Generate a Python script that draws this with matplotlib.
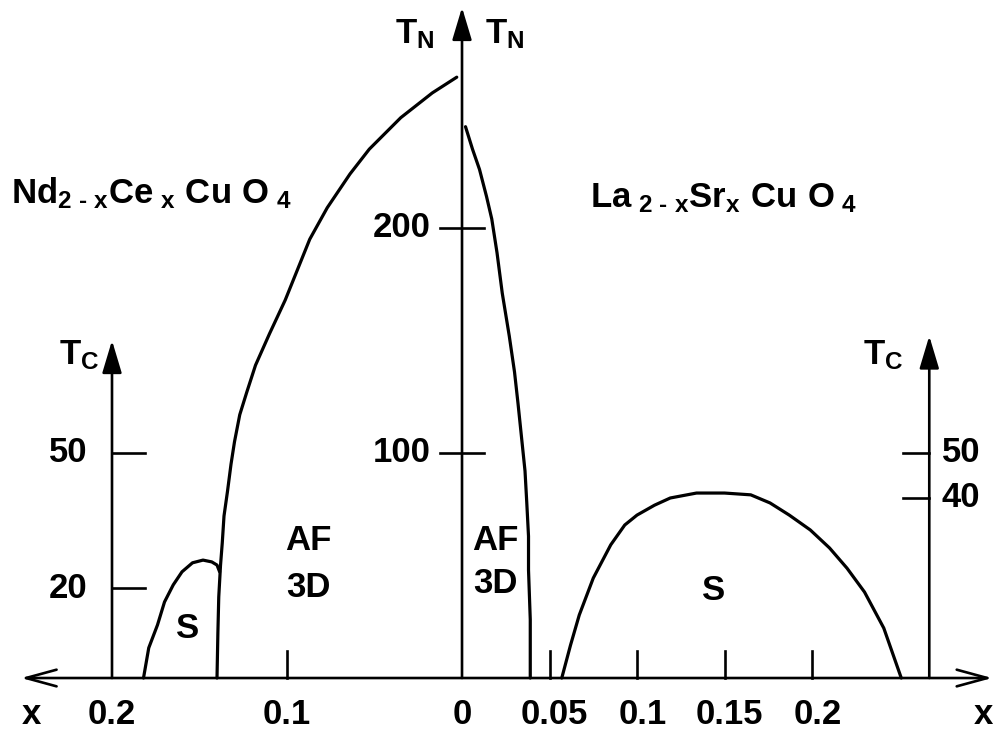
import numpy as np
import matplotlib.pyplot as plt

plt.rcParams['font.family'] = ['Liberation Sans', 'DejaVu Sans']
plt.rcParams['font.weight'] = 'bold'
plt.rcParams['mathtext.fontset'] = 'custom'
plt.rcParams['mathtext.rm'] = 'Liberation Sans:bold'
plt.rcParams['mathtext.bf'] = 'Liberation Sans:bold'
plt.rcParams['mathtext.it'] = 'Liberation Sans:bold'

# Nd2-xCexCuO4 (electron doped, drawn on the left, x counted leftwards)
nd_tn_x = [0.003, 0.017, 0.035, 0.053, 0.064, 0.077, 0.087, 0.101, 0.110, 0.118,
           0.123, 0.127, 0.130, 0.132, 0.134, 0.136, 0.137, 0.138, 0.139, 0.1395, 0.140]
nd_tn = [267, 260, 249, 235, 224, 209, 195, 168, 153, 139,
         127, 117, 105, 95, 83, 72, 60, 50, 36, 20, 0]
nd_tc_x = [0.182, 0.179, 0.174, 0.170, 0.165, 0.160, 0.154, 0.148, 0.143, 0.140, 0.1385]
nd_tc = [0, 6.7, 11.8, 16.9, 20.7, 23.6, 25.6, 26.2, 25.8, 25.1, 23.6]

# La2-xSrxCuO4 (hole doped, drawn on the right)
la_tn_x = [0.002, 0.006, 0.010, 0.014, 0.017, 0.020, 0.023, 0.027, 0.030,
           0.032, 0.034, 0.036, 0.037, 0.038, 0.038, 0.039, 0.039]
la_tn = [245, 235, 226, 214, 204, 189, 171, 152, 136,
         122, 107, 92, 78, 63, 48, 26, 0]
la_tc_x = [0.057, 0.062, 0.067, 0.075, 0.085, 0.093, 0.100, 0.110, 0.119, 0.134,
           0.150, 0.165, 0.176, 0.187, 0.199, 0.210, 0.220, 0.230, 0.241, 0.251]
la_tc = [0, 7.3, 14.0, 22.2, 29.6, 34.0, 36.2, 38.4, 40.0, 41.1,
         41.1, 40.7, 38.9, 36.2, 32.9, 28.9, 24.4, 19.1, 11.1, 0]

# axis ticks and labels
x_ticks_left = [0.1]
x_ticks_right = [0.05, 0.1, 0.15, 0.2]
x_labels_left = [0.2, 0.1]
x_labels_right = [0.05, 0.1, 0.15, 0.2]
tn_ticks = [100, 200]
tc_ticks_left = [20, 50]
tc_ticks_right = [40, 50]

TC_LEFT_X = -0.2
TC_RIGHT_X = 0.267

fig = plt.figure(figsize=(9.97, 7.30), dpi=100)
ax = fig.add_axes([0, 0, 1, 1])
ax.set_xlim(-0.264, 0.3057)
ax.set_ylim(-23.1, 301.3)
ax.axis('off')

# Tc axis: 50 K of Tc sits at 100 K of TN
ax2 = ax.twinx()
ax2.set_ylim(-23.1 / 2, 301.3 / 2)
ax2.axis('off')

lw_axis = 1.9
lw_curve = 2.3
fs = 25

# x axis with open arrows at both ends
ax.annotate('', xy=(-0.252, 0), xytext=(0.303, 0),
            arrowprops=dict(arrowstyle='<->,head_length=1.1,head_width=0.3',
                            lw=lw_axis, color='k', shrinkA=0, shrinkB=0,
                            mutation_scale=20))

def up_arrow(a, x, y_top):
    a.annotate('', xy=(x, y_top), xytext=(x, 0),
               arrowprops=dict(arrowstyle='-|>,head_length=1.0,head_width=0.3',
                               lw=lw_axis, color='k', shrinkA=0, shrinkB=0,
                               mutation_scale=20))

up_arrow(ax, 0, 298)
up_arrow(ax2, TC_LEFT_X, 75)
up_arrow(ax2, TC_RIGHT_X, 76)

# ticks
tick_h = 12
for v in x_ticks_left:
    ax.plot([-v, -v], [0, tick_h], color='k', lw=lw_axis)
for v in x_ticks_right:
    ax.plot([v, v], [0, tick_h], color='k', lw=lw_axis)
for v in tn_ticks:
    ax.plot([-0.0126, 0.0126], [v, v], color='k', lw=lw_axis)
    ax.text(-0.018, v, str(v), ha='right', va='center', fontsize=fs, fontweight='bold')
for v in tc_ticks_left:
    ax2.plot([TC_LEFT_X, TC_LEFT_X + 0.019], [v, v], color='k', lw=lw_axis)
    ax2.text(TC_LEFT_X - 0.014, v, str(v), ha='right', va='center', fontsize=fs, fontweight='bold')
for v in tc_ticks_right:
    ax2.plot([TC_RIGHT_X - 0.015, TC_RIGHT_X], [v, v], color='k', lw=lw_axis)
    ax2.text(TC_RIGHT_X + 0.007, v, str(v), ha='left', va='center', fontsize=fs, fontweight='bold')

# x labels
y_lab = -16.4
for v in x_labels_left:
    ax.text(-v, y_lab, f'{v:g}', ha='center', va='center', fontsize=fs, fontweight='bold')
ax.text(0, y_lab, '0', ha='center', va='center', fontsize=fs, fontweight='bold')
for v in x_labels_right:
    ax.text(v + 0.003, y_lab, f'{v:g}', ha='center', va='center', fontsize=fs, fontweight='bold')
ax.text(-0.246, y_lab, 'x', ha='center', va='center', fontsize=fs, fontweight='bold')
ax.text(0.298, y_lab, 'x', ha='center', va='center', fontsize=fs, fontweight='bold')

# phase boundaries
for a, xs, ys in [(ax, -np.array(nd_tn_x), nd_tn), (ax, la_tn_x, la_tn),
                  (ax2, -np.array(nd_tc_x), nd_tc), (ax2, la_tc_x, la_tc)]:
    a.plot(xs, ys, color='k', lw=lw_curve, solid_capstyle='round',
           solid_joinstyle='round')

# axis names
ax.text(-0.016, 286, r'$\mathbf{T_N}$', ha='right', va='center', fontsize=fs)
ax.text(0.013, 286, r'$\mathbf{T_N}$', ha='left', va='center', fontsize=fs)
ax.text(-0.207, 143.6, r'$\mathbf{T_C}$', ha='right', va='center', fontsize=fs)
ax.text(0.252, 143.6, r'$\mathbf{T_C}$', ha='right', va='center', fontsize=fs)

# compounds
ax.text(-0.258, 211, r'$\mathbf{Nd_{2\ \text{-}\ x}Ce_{\ x}\ Cu\ O_{\ 4}}$',
        ha='left', va='baseline', fontsize=fs)
ax.text(0.073, 209, r'$\mathbf{La_{\ 2\ \text{-}\ x}Sr_{x}\ Cu\ O_{\ 4}}$',
        ha='left', va='baseline', fontsize=fs)

# phase names
for xp, yp, s in [(-0.088, 61.3, 'AF'), (-0.088, 40.4, '3D'),
                  (0.019, 61.3, 'AF'), (0.019, 42.2, '3D'),
                  (-0.157, 21.8, 'S'), (0.144, 38.7, 'S')]:
    ax.text(xp, yp, s, ha='center', va='center', fontsize=fs, fontweight='bold')

fig.savefig('out.png', dpi=100)
